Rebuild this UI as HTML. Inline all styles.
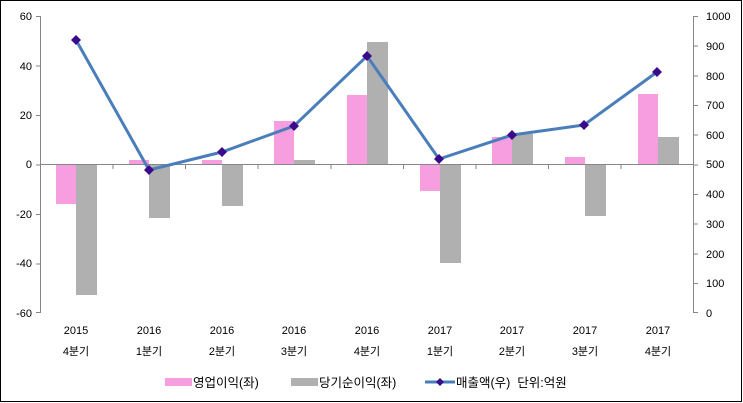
<!DOCTYPE html>
<html><head><meta charset="utf-8"><style>
html,body{margin:0;padding:0;background:#fff}
svg{display:block}
text{font-family:"Liberation Sans","Noto Sans CJK KR",sans-serif;font-size:11px;fill:#000}
text.lg{font-size:12.5px}
</style></head><body>
<svg width="743" height="403" viewBox="0 0 743 403" xmlns="http://www.w3.org/2000/svg">
<rect x="0.5" y="0.5" width="741" height="401" fill="#fff" stroke="#000" stroke-width="1"/>
<g id="bars">
<rect x="56" y="164" width="20" height="40" fill="#f79ee0"/>
<rect x="129" y="160" width="20" height="4" fill="#f79ee0"/>
<rect x="202" y="160" width="20" height="4" fill="#f79ee0"/>
<rect x="274" y="121" width="20" height="43" fill="#f79ee0"/>
<rect x="347" y="95" width="20" height="69" fill="#f79ee0"/>
<rect x="420" y="164" width="20" height="27" fill="#f79ee0"/>
<rect x="492" y="137" width="20" height="27" fill="#f79ee0"/>
<rect x="565" y="157" width="20" height="7" fill="#f79ee0"/>
<rect x="638" y="94" width="20" height="70" fill="#f79ee0"/>
<rect x="76" y="164" width="21" height="131" fill="#b0b0b0"/>
<rect x="149" y="164" width="21" height="54" fill="#b0b0b0"/>
<rect x="222" y="164" width="21" height="42" fill="#b0b0b0"/>
<rect x="294" y="160" width="21" height="4" fill="#b0b0b0"/>
<rect x="367" y="42" width="21" height="122" fill="#b0b0b0"/>
<rect x="440" y="164" width="21" height="99" fill="#b0b0b0"/>
<rect x="512" y="134" width="21" height="30" fill="#b0b0b0"/>
<rect x="585" y="164" width="21" height="52" fill="#b0b0b0"/>
<rect x="658" y="137" width="21" height="27" fill="#b0b0b0"/>
</g>
<g stroke="#868686" stroke-width="1" fill="none">
<line x1="40.5" y1="16" x2="40.5" y2="313"/>
<line x1="693.5" y1="16" x2="693.5" y2="313"/>
<line x1="40" y1="164.5" x2="693" y2="164.5"/>
<path d="M36 16.5H40M36 66H40M36 115.5H40M36 165H40M36 214.5H40M36 264H40M36 312.5H40"/>
<path d="M693 16.5H698M693 46H698M693 76H698M693 105.5H698M693 135H698M693 165H698M693 194.5H698M693 224H698M693 254H698M693 283.5H698M693 312.5H698"/>
<path d="M40.5 164V169M113 164V169M185.5 164V169M258 164V169M331 164V169M403.5 164V169M476 164V169M548.5 164V169M621 164V169M693.5 164V169"/>
</g>
<g text-anchor="end">
<text x="32" y="20">60</text><text x="32" y="70">40</text><text x="32" y="119">20</text>
<text x="32" y="168">0</text><text x="32" y="218">-20</text><text x="32" y="267">-40</text><text x="32" y="317">-60</text>
</g>
<g>
<text x="706" y="20">1000</text><text x="706" y="50">900</text><text x="706" y="80">800</text>
<text x="706" y="109">700</text><text x="706" y="139">600</text><text x="706" y="168">500</text>
<text x="706" y="198">400</text><text x="706" y="228">300</text><text x="706" y="258">200</text>
<text x="706" y="287">100</text><text x="706" y="317">0</text>
</g>
<polyline points="76,40 149,170 222,152 294,126 367,56 439,159 512,135 584,125 657,72" fill="none" stroke="#4a7ebb" stroke-width="3"/>
<g fill="#3a0a8c">
<path d="M76 35l5 5-5 5-5-5z"/><path d="M149 165l5 5-5 5-5-5z"/><path d="M222 147l5 5-5 5-5-5z"/>
<path d="M294 121l5 5-5 5-5-5z"/><path d="M367 51l5 5-5 5-5-5z"/><path d="M439 154l5 5-5 5-5-5z"/>
<path d="M512 130l5 5-5 5-5-5z"/><path d="M584 120l5 5-5 5-5-5z"/><path d="M657 67l5 5-5 5-5-5z"/>
</g>
<g text-anchor="middle">
<text x="76" y="334">2015</text><text x="76" y="355">4분기</text>
<text x="149" y="334">2016</text><text x="149" y="355">1분기</text>
<text x="222" y="334">2016</text><text x="222" y="355">2분기</text>
<text x="294" y="334">2016</text><text x="294" y="355">3분기</text>
<text x="367" y="334">2016</text><text x="367" y="355">4분기</text>
<text x="440" y="334">2017</text><text x="440" y="355">1분기</text>
<text x="512" y="334">2017</text><text x="512" y="355">2분기</text>
<text x="585" y="334">2017</text><text x="585" y="355">3분기</text>
<text x="658" y="334">2017</text><text x="658" y="355">4분기</text>
</g>
<rect x="165" y="378" width="27" height="8" fill="#f79ee0"/>
<text class="lg" x="193" y="387">영업이익(좌)</text>
<rect x="291" y="378" width="27" height="8" fill="#b0b0b0"/>
<text class="lg" x="319" y="387">당기순이익(좌)</text>
<line x1="425" y1="382" x2="455" y2="382" stroke="#4a7ebb" stroke-width="3"/>
<path d="M440 378l4 4-4 4-4-4z" fill="#3a0a8c"/>
<text class="lg" x="456" y="387" xml:space="preserve">매출액(우)  단위:억원</text>
</svg>
</body></html>
